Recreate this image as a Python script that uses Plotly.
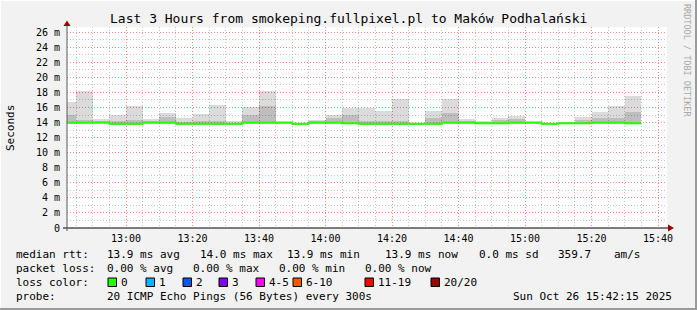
import plotly.graph_objects as go
import pandas as pd

# ---------------- data ----------------
bin_starts = list(pd.date_range("2025-10-26 12:40:00", periods=35, freq="5min"))
median_ms = [14.0, 14.0, 14.05, 13.85, 13.85, 14.0, 14.0, 13.85, 13.85, 13.85,
             13.85, 14.0, 14.0, 14.0, 13.85, 14.0, 14.0, 13.9, 13.85, 13.85,
             13.85, 13.85, 13.85, 14.0, 14.0, 13.9, 13.9, 14.0, 14.0, 13.85,
             13.9, 13.9, 14.0, 14.0, 13.9]
smoke_min = [13.8, 13.8, 13.85, 13.7, 13.7, 13.8, 13.8, 13.7, 13.7, 13.7,
             13.7, 13.8, 13.8, 13.85, 13.7, 13.8, 13.8, 13.75, 13.7, 13.7,
             13.7, 13.7, 13.7, 13.8, 13.8, 13.75, 13.75, 13.8, 13.85, 13.7,
             13.75, 13.75, 13.8, 13.8, 13.75]
smoke_max = [16.8, 18.2, 14.5, 15.0, 16.2, 14.5, 15.3, 14.6, 15.1, 16.3,
             14.2, 16.1, 18.2, 14.1, 13.95, 14.3, 15.0, 16.0, 16.0, 15.5,
             17.1, 14.0, 15.5, 17.1, 14.5, 14.2, 14.6, 14.9, 14.1, 13.9,
             14.1, 14.7, 15.4, 16.2, 17.5]
smoke_mid = [15.0, 14.3, 14.1, 14.2, 14.3, 14.2, 14.75, 14.1, 14.2, 14.2,
             14.0, 15.0, 16.2, 14.0, 13.9, 14.15, 14.6, 15.0, 14.2, 14.2,
             14.2, 14.0, 14.6, 15.3, 14.2, 14.1, 14.3, 14.5, 14.05, 13.9,
             14.0, 14.3, 14.6, 14.6, 15.4]
y_tick_vals = [0, 2, 4, 6, 8, 10, 12, 14, 16, 18, 20, 22, 24, 26]
y_tick_text = ["0", "2 m", "4 m", "6 m", "8 m", "10 m", "12 m", "14 m", "16 m",
               "18 m", "20 m", "22 m", "24 m", "26 m"]
title_text = "Last 3 Hours from smokeping.fullpixel.pl to Maków Podhalański"
stat_rows = [
    ["median rtt:", "13.9 ms avg", "14.0 ms max", "13.9 ms min", "13.9 ms now", "0.0 ms sd", "359.7", "am/s"],
    ["packet loss:", "0.00 % avg", "0.00 % max", "0.00 % min", "0.00 % now"],
]
loss_labels = ["0", "1", "2", "3", "4-5", "6-10", "11-19", "20/20"]
loss_colors = ["#26ff00", "#00b8ff", "#0059ff", "#7e00ff", "#ff00ff", "#ff5500", "#ff0000", "#a10000"]
probe_text = "20 ICMP Echo Pings (56 Bytes) every 300s"
stamp_text = "Sun Oct 26 15:42:15 2025"

# ---------------- layout constants ----------------
W, H = 697, 310
L, T, PW, PH = 67, 27, 600, 201
BOT = T + PH
FONT = "DejaVu Sans Mono"
DASH = "1px,2px"
MINOR_COL = "#c4c4c4"
MAJOR_COL = "#f28a8a"

def px(x):
    return (x - L) / PW

def py(y):
    return (BOT - y) / PH

step = pd.Timedelta(minutes=5)
centers = [s + step / 2 for s in bin_starts]

x_minor = [t for t in pd.date_range("2025-10-26 12:45:00", "2025-10-26 15:40:00", freq="5min")
           if t.minute % 20 != 0]
y_minor = list(range(1, 27, 2))

fig = go.Figure()
fig.add_trace(go.Bar(
    x=centers, base=smoke_min, y=[a - b for a, b in zip(smoke_max, smoke_min)],
    width=300000, marker=dict(color="rgba(0,0,0,0.14)", line=dict(width=0)),
    showlegend=False, hoverinfo="skip"))
fig.add_trace(go.Bar(
    x=centers, base=smoke_min, y=[a - b for a, b in zip(smoke_mid, smoke_min)],
    width=300000, marker=dict(color="rgba(0,0,0,0.13)", line=dict(width=0)),
    showlegend=False, hoverinfo="skip"))
fig.add_trace(go.Scatter(
    x=bin_starts + [bin_starts[-1] + step], y=median_ms + [median_ms[-1]],
    mode="lines", line=dict(color="#26ff00", width=2, shape="hv"),
    showlegend=False, hoverinfo="skip"))

x0 = pd.Timestamp("2025-10-26 12:42:15")
x1 = x0 + pd.Timedelta(minutes=PW / 3.325)
yr = [0, PH / 7.53]

fig.update_layout(
    width=W, height=H, margin=dict(l=L, r=W - L - PW, t=T, b=H - BOT),
    paper_bgcolor="#f2f2f2", plot_bgcolor="#ffffff", barmode="overlay",
    bargap=0, font=dict(family=FONT, size=10, color="#000000"),
    xaxis=dict(range=[x0, x1], type="date", tickformat="%H:%M",
               dtick=1200000, tick0="2025-10-26 13:00",
               showgrid=True, gridcolor=MAJOR_COL, griddash=DASH, gridwidth=1,
               minor=dict(tickmode="array", tickvals=x_minor, showgrid=True,
                          gridcolor=MINOR_COL, griddash=DASH, gridwidth=1, ticks=""),
               showline=False, zeroline=False, ticks="", ticklabelstandoff=3,
               tickfont=dict(family=FONT, size=10, color="#000")),
    yaxis=dict(range=yr, tickvals=y_tick_vals, ticktext=y_tick_text,
               showgrid=True, gridcolor=MAJOR_COL, griddash=DASH, gridwidth=1,
               minor=dict(tickmode="array", tickvals=y_minor, showgrid=True,
                          gridcolor=MINOR_COL, griddash=DASH, gridwidth=1, ticks=""),
               showline=False, zeroline=False, ticks="", ticklabelstandoff=6,
               tickfont=dict(family=FONT, size=10, color="#000")),
)

shapes = []
# axes lines and arrows
shapes.append(dict(type="line", xref="paper", yref="paper", x0=px(63), x1=px(668),
                   y0=py(228), y1=py(228), line=dict(color="#000000", width=1)))
shapes.append(dict(type="line", xref="paper", yref="paper", x0=px(67), x1=px(67),
                   y0=py(231), y1=py(24), line=dict(color="#5a5a5a", width=1)))
shapes.append(dict(type="path", xref="paper", yref="paper",
                   path=f"M {px(67)},{py(20.5)} L {px(63.5)},{py(26)} L {px(70.5)},{py(26)} Z",
                   fillcolor="#a00000", line=dict(width=0)))
shapes.append(dict(type="path", xref="paper", yref="paper",
                   path=f"M {px(674)},{py(228)} L {px(668)},{py(224.5)} L {px(668)},{py(231.5)} Z",
                   fillcolor="#a00000", line=dict(width=0)))
# frame
shapes.append(dict(type="line", xref="paper", yref="paper", x0=px(0.5), x1=px(0.5),
                   y0=py(0), y1=py(310), line=dict(color="#ffffff", width=1)))
shapes.append(dict(type="line", xref="paper", yref="paper", x0=px(0), x1=px(697),
                   y0=py(0.5), y1=py(0.5), line=dict(color="#ffffff", width=1)))
shapes.append(dict(type="line", xref="paper", yref="paper", x0=px(696), x1=px(696),
                   y0=py(0), y1=py(310), line=dict(color="#9a9a9a", width=2)))
shapes.append(dict(type="line", xref="paper", yref="paper", x0=px(0), x1=px(697),
                   y0=py(309), y1=py(309), line=dict(color="#9a9a9a", width=2)))

ann = []
def text(x, y, s, size=11, color="#000", anchor="left", angle=0):
    ann.append(dict(x=px(x), y=py(y), xref="paper", yref="paper", text=s, showarrow=False,
                    xanchor=anchor, yanchor="middle", textangle=angle,
                    font=dict(family=FONT, size=size, color=color), borderpad=0))

text(348, 18, title_text, size=13, anchor="center")
text(10, 128, "Seconds", size=11, anchor="center", angle=-90)
text(687, 60, "RRDTOOL / TOBI OETIKER", size=8.5, color="#a8a8a8", anchor="center", angle=90)

row_y = [254.3, 268.3, 282.3, 296.3]
row1_x = [16, 107, 200, 287, 385, 479, 558, 614]
row2_x = [16, 107, 193, 279, 365]
for s, x in zip(stat_rows[0], row1_x):
    text(x - 1, row_y[0], s)
for s, x in zip(stat_rows[1], row2_x):
    text(x - 1, row_y[1], s)
text(15, row_y[2], "loss color:")
box_x = [108, 146, 183, 219, 256, 293, 365, 431]
for lab, col, bx in zip(loss_labels, loss_colors, box_x):
    shapes.append(dict(type="rect", xref="paper", yref="paper",
                       x0=px(bx), x1=px(bx + 8.5), y0=py(286.5), y1=py(278),
                       fillcolor=col, line=dict(color="#000", width=1)))
    text(bx + 12, row_y[2], lab)
text(15, row_y[3], "probe:")
text(106, row_y[3], probe_text)
text(512, row_y[3], stamp_text)

fig.update_layout(shapes=shapes, annotations=ann)
fig.write_html("out.html")
